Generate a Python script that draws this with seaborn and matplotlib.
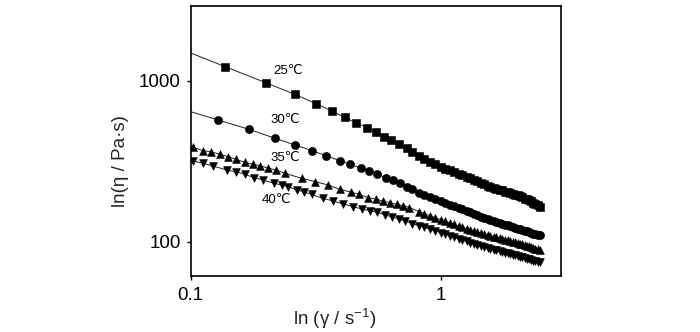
import numpy as np
import pandas as pd
import matplotlib
matplotlib.use("Agg")
import matplotlib.pyplot as plt
import seaborn as sns
from matplotlib import font_manager
from matplotlib.ticker import NullLocator

# ---------------- data ----------------
dense_a = [0.73, 0.77, 0.82, 0.86, 0.91, 0.95, 1.00, 1.04, 1.09, 1.13,
           1.18, 1.22, 1.27, 1.31, 1.36, 1.40, 1.45, 1.49, 1.54, 1.58,
           1.63, 1.67, 1.72, 1.76, 1.81, 1.85, 1.90, 1.94, 1.99, 2.03,
           2.08, 2.12, 2.17, 2.21, 2.26, 2.30, 2.35, 2.39, 2.44, 2.49]

rate_25 = [0.1375, 0.1995, 0.2613, 0.3171, 0.3674, 0.4142, 0.4604, 0.5071,
           0.551, 0.5932, 0.6346, 0.681] + dense_a
eta_25 = [1222, 972, 823, 720, 648, 591, 546, 512, 480, 449, 428, 406,
          380, 363, 340, 327, 313, 302, 291.5, 284, 277, 271,
          264, 260, 253, 249, 243, 239, 233, 229, 223, 219,
          216, 213, 210, 208, 205, 203, 200, 198, 196, 194,
          191, 189, 185.5, 183, 180.5, 178, 174, 171, 168, 164.5]

rate_30 = [0.1289, 0.1711, 0.2174, 0.2613, 0.3065, 0.3477, 0.3945, 0.4349,
           0.4799, 0.519, 0.5587, 0.6026, 0.6427, 0.6873] + dense_a
eta_30 = [570, 499, 439, 399, 367.5, 342, 319, 302.5, 286, 275, 262, 250, 241, 232,
          220, 211.6, 201.8, 195.6, 188.7, 183.7, 178, 173.9, 169.5, 166.1,
          162.4, 159.2, 155.3, 152.5, 148.8, 146.3, 143.4, 141.3, 138.7, 137.0,
          134.6, 132.9, 130.9, 129.3, 127.7, 126.2, 124.6, 123.4, 121.8, 120.6,
          119.2, 118.2, 116.9, 115.9, 114.6, 113.6, 112.4, 111.5, 110.5, 109.4]

rate_35 = [0.1019, 0.1123, 0.1202, 0.131, 0.1414, 0.1514, 0.1649, 0.177, 0.1893,
           0.2044, 0.2194, 0.2384, 0.278, 0.3142, 0.3551, 0.3956, 0.4365, 0.4733,
           0.5132, 0.5525, 0.5861, 0.627, 0.6668, 0.7085, 0.7489] + dense_a[2:]
eta_35 = [386, 367.5, 362, 349, 337, 325, 311, 302.5, 296.5, 286, 279, 266, 247.6,
          236, 225, 211, 203.6, 196.5, 187.6, 183.7, 179, 174.6, 170.7, 167.3, 163.1,
          153.6, 149.4, 144.6, 141.1, 137.0, 133.7, 130.3, 128.1, 125.2,
          123.1, 120.4, 118.6, 116.4, 114.7, 112.8, 111.5, 109.9, 108.6, 107.3,
          106.2, 104.8, 103.9, 102.8, 101.9, 100.9, 100.0, 99.0, 98.3, 97.3,
          96.5, 95.4, 94.5, 93.4, 92.6, 91.5, 90.7, 89.8, 88.9]

rate_40 = [0.1024, 0.1123, 0.1231, 0.1393, 0.1518, 0.1649, 0.1791, 0.1952, 0.2154,
           0.2312, 0.2457, 0.2655, 0.2839, 0.3048, 0.3373, 0.3718, 0.4077, 0.447,
           0.4831, 0.5214, 0.5577, 0.60, 0.64, 0.68, 0.72] + dense_a[1:]
eta_40 = [317, 307, 295, 279, 272, 262, 250, 241.6, 230.6, 225, 219.6, 209.5, 204.5,
          196.5, 186, 179, 171.5, 165, 159.6, 155.8, 152.3, 146.9, 142.2, 138.2, 134.3,
          129.7, 125.7, 122.7, 119.4, 116.9, 114.0, 111.5, 108.8, 106.7, 104.2,
          102.3, 100.3, 98.7, 96.8, 95.3, 93.6, 92.6, 91.3, 90.2, 89.0,
          88.2, 87.1, 86.3, 85.3, 84.5, 83.6, 82.9, 82.1, 81.4, 80.6,
          79.9, 79.1, 78.4, 77.6, 77.1, 76.3, 75.8, 75.0, 74.3]

series_labels = ["25℃", "30℃", "35℃", "40℃"]
x_ticks = [0.1, 1]
x_ticklabels = ["0.1", "1"]
y_ticks = [100, 1000]
y_ticklabels = ["100", "1000"]
x_label = "ln (γ / s$^{-1}$)"
y_label = "ln(η / Pa·s)"

# ---------------- style ----------------
sns.set_theme(style="ticks")
avail = {f.name for f in font_manager.fontManager.ttflist}
main_font = "Liberation Sans Narrow" if "Liberation Sans Narrow" in avail else "Liberation Sans"
plt.rcParams["font.family"] = [main_font, "DejaVu Sans"]
plt.rcParams["mathtext.fontset"] = "custom"
plt.rcParams["mathtext.rm"] = main_font
plt.rcParams["mathtext.it"] = main_font
plt.rcParams["axes.linewidth"] = 1.2
plt.rcParams["axes.edgecolor"] = "black"

fig = plt.figure(figsize=(7.0, 3.32), dpi=100)
ax = fig.add_axes([0.2724, 0.1696, 0.5295, 0.8123])
ax.set_xscale("log")
ax.set_yscale("log")
xmin, xmax = 0.1, 3.037
ax.set_xlim(xmin, xmax)
ax.set_ylim(61.5, 2911)

styles = [("s", 5.4), ("o", 5.9), ("^", 5.6), ("v", 5.6)]
data = [(rate_25, eta_25), (rate_30, eta_30), (rate_35, eta_35), (rate_40, eta_40)]

for (rates, etas), (mk, ms) in zip(data, styles):
    lr = np.log10(rates[:2])
    le = np.log10(etas[:2])
    slope = (le[1] - le[0]) / (lr[1] - lr[0])
    y0 = 10 ** (le[0] + slope * (np.log10(xmin) - lr[0]))
    line_df = pd.DataFrame({"x": [xmin] + list(rates), "y": [y0] + list(etas)})
    sns.lineplot(data=line_df, x="x", y="y", ax=ax, color="#222222", lw=0.7,
                 sort=False, estimator=None, zorder=2)
    pts = pd.DataFrame({"x": rates, "y": etas})
    sns.scatterplot(data=pts, x="x", y="y", ax=ax, marker=mk, s=ms ** 2,
                    color="black", edgecolor="black", linewidth=0.4, zorder=3)

label_pos = [(0.2625, 0.7609), (0.2558, 0.5773), (0.2558, 0.4364), (0.2302, 0.2807)]
for lab, (tx, ty) in zip(series_labels, label_pos):
    ax.text(tx, ty, lab, transform=ax.transAxes, ha="center", va="center",
            fontsize=9.5, color="black")

ax.set_xticks(x_ticks)
ax.set_xticklabels(x_ticklabels)
ax.set_yticks(y_ticks)
ax.set_yticklabels(y_ticklabels)
ax.xaxis.set_minor_locator(NullLocator())
ax.yaxis.set_minor_locator(NullLocator())
ax.tick_params(axis="both", direction="out", length=3, width=1, colors="black",
               labelsize=13.5)
ax.tick_params(axis="x", pad=5)
ax.tick_params(axis="y", pad=4)
for sp in ax.spines.values():
    sp.set_visible(True)
    sp.set_linewidth(1.2)
    sp.set_color("black")

ax.set_xlabel(x_label, fontsize=13.5)
ax.set_ylabel(y_label, fontsize=13.5)
ax.xaxis.label.set_va("center")
ax.yaxis.label.set_va("center")
ax.xaxis.set_label_coords(0.389, -0.1617)
ax.yaxis.set_label_coords(-0.1889, 0.4234)

fig.savefig("out.png", dpi=100, facecolor="white")
